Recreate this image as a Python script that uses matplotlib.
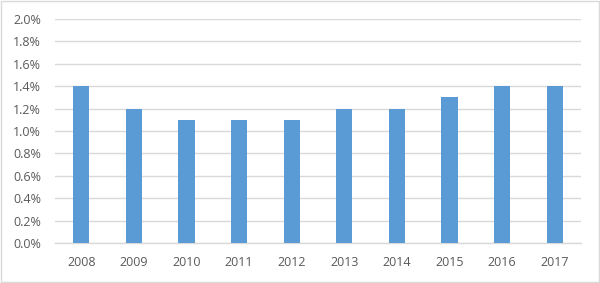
import matplotlib.pyplot as plt
from matplotlib.patches import Rectangle
from matplotlib.ticker import FuncFormatter, MultipleLocator

anos = ['2008', '2009', '2010', '2011', '2012', '2013', '2014', '2015', '2016', '2017']
taxa = [1.4, 1.2, 1.1, 1.1, 1.1, 1.2, 1.2, 1.3, 1.4, 1.4]

COR_BARRA = '#5B9BD5'
COR_GRADE = '#D9D9D9'
COR_TEXTO = '#595959'

plt.rcParams['font.family'] = ['Open Sans', 'DejaVu Sans']

fig = plt.figure(figsize=(6.0, 2.83), dpi=100)
ax = fig.add_axes([0.0917, 0.1413, 0.8766, 0.7916])

x = range(len(anos))
ax.bar(x, taxa, width=0.31, color=COR_BARRA, zorder=3)

ax.set_xlim(-0.5, len(anos) - 0.5)
ax.set_ylim(0, 2.0)
ax.yaxis.set_major_locator(MultipleLocator(0.2))
ax.yaxis.set_major_formatter(FuncFormatter(lambda v, p: f'{v:.1f}%'))
ax.set_xticks(list(x))
ax.set_xticklabels(anos)

ax.grid(axis='y', color=COR_GRADE, linewidth=1, zorder=0)
for lado in ['top', 'right', 'left']:
    ax.spines[lado].set_visible(False)
ax.spines['bottom'].set_color(COR_GRADE)
ax.spines['bottom'].set_linewidth(1)
ax.tick_params(axis='both', length=0, labelsize=9, colors=COR_TEXTO)
ax.tick_params(axis='y', pad=10)
ax.tick_params(axis='x', pad=9)

# borda do grafico
fig.patches.append(Rectangle((0.001, 0.002), 0.997, 0.995, transform=fig.transFigure,
                             fill=False, edgecolor='#D9D9D9', linewidth=1))

fig.savefig('out.png', dpi=100)
